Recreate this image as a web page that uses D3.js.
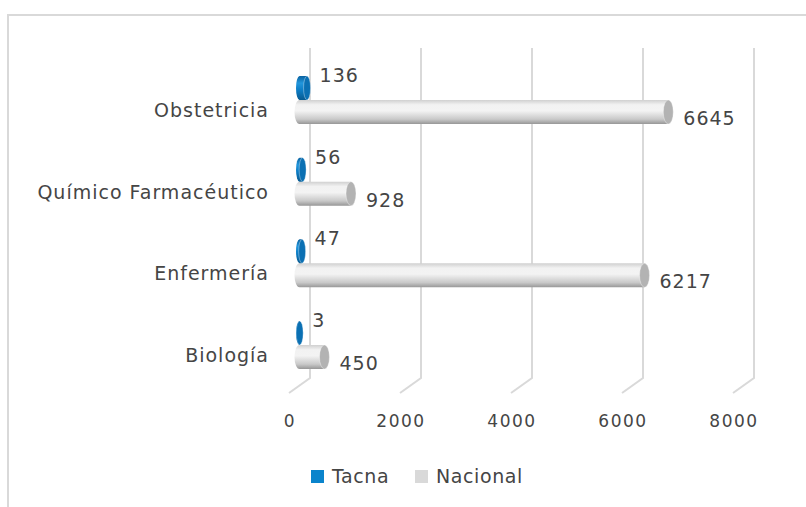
<!DOCTYPE html>
<html>
<head>
<meta charset="utf-8">
<script src="https://cdn.jsdelivr.net/npm/d3@7"></script>
<style>
  body { margin: 0; background: #fff; }
  svg text { font-family: "DejaVu Sans", sans-serif; fill: #454545; }
</style>
</head>
<body>
<svg id="chart" width="806" height="507"></svg>
<script>
const categories = ["Obstetricia", "Químico Farmacéutico", "Enfermería", "Biología"];
const tacna = [136, 56, 47, 3];
const nacional = [6645, 928, 6217, 450];
const ticks = [0, 2000, 4000, 6000, 8000];
const seriesNames = ["Tacna", "Nacional"];

const svg = d3.select("#chart");

// floor depth offset (back wall -> front)
const depth = {dx: -21, dy: 15};
const wallTop = 48, wallBottom = 378;

const x = d3.scaleLinear().domain([0, 8000]).range([310, 754]);
const y = d3.scalePoint().domain(categories).range([100, 345]);

// outer frame (cropped at right/bottom)
svg.append("path")
    .attr("d", "M8,507 V15 H806")
    .attr("fill", "none")
    .attr("stroke", "#d9d9d9")
    .attr("stroke-width", 2);

const defs = svg.append("defs");
function cylGrad(id, stops) {
    const g = defs.append("linearGradient").attr("id", id)
        .attr("x1", 0).attr("y1", 0).attr("x2", 0).attr("y2", 1);
    stops.forEach(s => g.append("stop").attr("offset", s[0]).attr("stop-color", s[1]));
}
cylGrad("gNac", [[0, "#d0d0d0"], [0.2, "#f2f2f2"], [0.45, "#f3f3f3"], [0.8, "#c9c9c9"], [1, "#979797"]]);
cylGrad("gTac", [[0, "#0a62a0"], [0.3, "#2296dc"], [0.6, "#0c7cc4"], [1, "#085a90"]]);

// back wall gridlines + floor diagonals
const grid = svg.append("g");
ticks.forEach(t => {
    grid.append("path")
        .attr("d", `M${x(t)},${wallTop} V${wallBottom} l${depth.dx},${depth.dy}`)
        .attr("fill", "none")
        .attr("stroke", "#d9d9d9")
        .attr("stroke-width", 2);
});

// tick labels at front edge
svg.append("g").selectAll("text")
    .data(ticks)
    .join("text")
    .attr("x", d => x(d) + depth.dx + 1)
    .attr("y", 427)
    .attr("text-anchor", "middle")
    .attr("font-size", 17)
    .attr("letter-spacing", 1.5)
    .text(d => d);

// category labels
svg.append("g").selectAll("text")
    .data(categories)
    .join("text")
    .attr("x", 269)
    .attr("y", d => y(d) + 17)
    .attr("text-anchor", "end")
    .attr("font-size", 19)
    .attr("letter-spacing", 1)
    .text(d => d);

// bars sit at mid depth
const mid = {dx: depth.dx / 2, dy: depth.dy / 2};
const bx = v => x(v) + mid.dx;
const rxNac = 5, rxTac = 3.5;

function cylinder(g, x0, x1, cy, h, rx, fill, cap) {
    const ry = h / 2;
    g.append("path")
        .attr("d", `M${x1},${cy - ry} H${x0} A${rx},${ry} 0 0 0 ${x0},${cy + ry} H${x1} Z`)
        .attr("fill", fill);
    g.append("ellipse")
        .attr("cx", x1).attr("cy", cy)
        .attr("rx", rx).attr("ry", ry)
        .attr("fill", cap)
        .attr("stroke", "#ffffff")
        .attr("stroke-opacity", 0.35)
        .attr("stroke-width", 1);
}

const bars = svg.append("g");
categories.forEach((c, i) => {
    const cy = y(c);
    cylinder(bars, bx(0), bx(nacional[i]), cy + 12, 24, rxNac, "url(#gNac)", "#b3b3b3");
    cylinder(bars, bx(0), bx(tacna[i]), cy - 12, 24, rxTac, "url(#gTac)", "#0b70b3");
});

// value labels
svg.append("g").selectAll("text")
    .data(categories.map((c, i) => ({c, v: nacional[i]})))
    .join("text")
    .attr("x", d => bx(d.v) + rxNac + 10)
    .attr("y", d => y(d.c) + 25)
    .attr("font-size", 19)
    .attr("letter-spacing", 1)
    .text(d => d.v);

svg.append("g").selectAll("text")
    .data(categories.map((c, i) => ({c, v: tacna[i]})))
    .join("text")
    .attr("x", d => bx(d.v) + rxTac + 9)
    .attr("y", d => y(d.c) - 18)
    .attr("font-size", 19)
    .attr("letter-spacing", 1)
    .text(d => d.v);

// legend
const legend = svg.append("g").attr("transform", "translate(311,470)");
const legColors = ["#0a84cc", "#d9d9d9"];
const legX = [0, 104];
seriesNames.forEach((s, i) => {
    legend.append("rect")
        .attr("x", legX[i]).attr("y", 0)
        .attr("width", 13).attr("height", 13)
        .attr("fill", legColors[i]);
    legend.append("text")
        .attr("x", legX[i] + 21).attr("y", 13)
        .attr("font-size", 19)
        .attr("letter-spacing", 0.6)
        .text(s);
});
</script>
</body>
</html>
